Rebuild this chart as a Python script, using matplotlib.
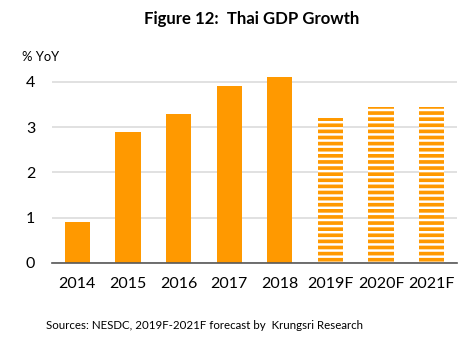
import matplotlib.pyplot as plt

years = ['2014', '2015', '2016', '2017', '2018', '2019F', '2020F', '2021F']
growth = [0.9, 2.9, 3.3, 3.9, 4.1, 3.2, 3.45, 3.45]
forecast = [False, False, False, False, False, True, True, True]

ORANGE = '#FF9900'

plt.rcParams['font.family'] = ['Lato', 'DejaVu Sans']
plt.rcParams['hatch.linewidth'] = 2.4
plt.rcParams['hatch.color'] = ORANGE

DPI = 110
fig = plt.figure(figsize=(464 / DPI, 341 / DPI), dpi=DPI)
ax = fig.add_axes([0.112, 0.229, 0.873, 0.584])

x = range(len(years))
for i in x:
    if forecast[i]:
        ax.bar(i, growth[i], width=0.5, color='white', edgecolor=ORANGE,
               linewidth=0, hatch='---', zorder=2)
    else:
        ax.bar(i, growth[i], width=0.5, color=ORANGE, zorder=2)

ax.set_xlim(-0.5, len(years) - 0.5)
ax.set_ylim(0, 4.4)
ax.set_yticks([0, 1, 2, 3, 4])
ax.set_xticks(list(x))
ax.set_xticklabels(years)
ax.grid(axis='y', color='#D9D9D9', linewidth=1, zorder=0)
for side in ['left', 'right', 'top']:
    ax.spines[side].set_visible(False)
ax.spines['bottom'].set_color('#595959')
ax.spines['bottom'].set_linewidth(1.1)
ax.tick_params(axis='both', length=0, labelsize=10.5, colors='#000000')
ax.tick_params(axis='y', pad=11)
ax.tick_params(axis='x', pad=9)

fig.text(0.543, 0.945, 'Figure 12:  Thai GDP Growth', ha='center', va='center',
         fontsize=11, fontweight='bold')
fig.text(0.047, 0.832, '% YoY', ha='left', va='center', fontsize=8.5)
fig.text(0.099, 0.044, 'Sources: NESDC, 2019F-2021F forecast by  Krungsri Research',
         ha='left', va='center', fontsize=7.5)

fig.savefig('out.png', dpi=DPI)
